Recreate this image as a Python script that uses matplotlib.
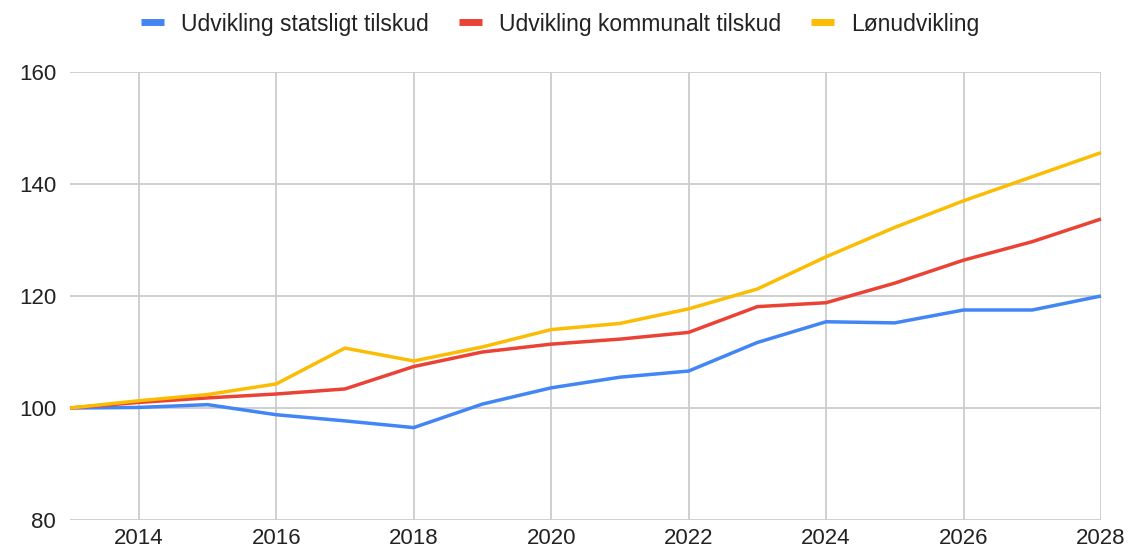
import matplotlib
matplotlib.use("Agg")
import matplotlib.pyplot as plt
from matplotlib.lines import Line2D

years = list(range(2013, 2029))
statsligt = [100.0, 100.1, 100.6, 98.8, 97.7, 96.5, 100.7, 103.6, 105.5, 106.6, 111.7, 115.4, 115.2, 117.5, 117.5, 120.0]
kommunalt = [100.0, 101.0, 101.8, 102.5, 103.4, 107.4, 110.0, 111.4, 112.3, 113.5, 118.1, 118.8, 122.3, 126.4, 129.7, 133.75]
loen = [100.0, 101.3, 102.4, 104.3, 110.7, 108.4, 110.9, 114.0, 115.1, 117.7, 121.25, 127.0, 132.25, 137.0, 141.3, 145.6]

series_names = ["Udvikling statsligt tilskud", "Udvikling kommunalt tilskud", "Lønudvikling"]
colors = ["#4285F4", "#EA4335", "#FBBC04"]
x_ticks = [2014, 2016, 2018, 2020, 2022, 2024, 2026, 2028]
y_ticks = [80, 100, 120, 140, 160]

plt.rcParams['font.family'] = ['Liberation Sans', 'DejaVu Sans']

fig = plt.figure(figsize=(11.32, 5.52), dpi=100)
ax = fig.add_axes([70/1132, 1 - 520/552, (1101-70)/1132, (520-72)/552])

for vals, c in zip([statsligt, kommunalt, loen], colors):
    ax.plot(years, vals, color=c, lw=2.5, solid_joinstyle='round', solid_capstyle='butt', zorder=3, clip_on=False)

ax.set_xlim(2013, 2028)
ax.set_ylim(80, 160)
ax.set_xticks(x_ticks)
ax.set_yticks(y_ticks)
ax.grid(True, color="#cccccc", lw=1.3, zorder=0)
for s in ax.spines.values():
    s.set_visible(False)
ax.tick_params(length=0, labelsize=16, colors="#222222")
ax.tick_params(axis='x', pad=6)
ax.tick_params(axis='y', pad=10)
ax.set_axisbelow(True)

handles = [Line2D([0], [0], color=c, lw=5, solid_capstyle='butt') for c in colors]
fig.legend(handles, series_names, loc='center', bbox_to_anchor=(560/1132, 1 - 24/552), ncol=3,
           frameon=False, fontsize=16.5, handlelength=1.0, handletextpad=0.75, columnspacing=1.3,
           labelcolor="#222222")

fig.savefig("out.png", dpi=100)
